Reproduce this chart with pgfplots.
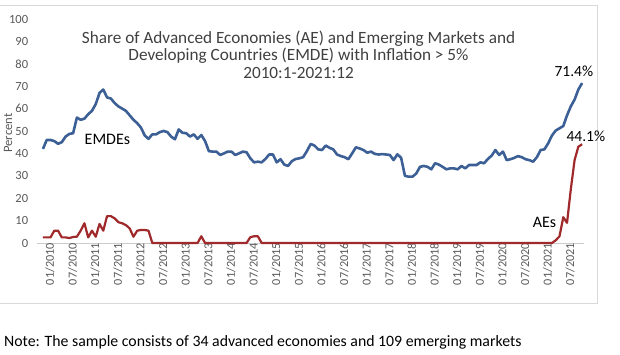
\documentclass[border=0pt]{standalone}
\usepackage{fontspec}
\setmainfont{Carlito}
\usepackage{pgfplots}
\pgfplotsset{compat=1.18}
\usepackage{pgfplotstable}
\definecolor{emde}{HTML}{3C5F95}
\definecolor{ae}{HTML}{A0292B}
\definecolor{txt}{HTML}{404040}
\definecolor{tick}{HTML}{595959}
\pgfplotstableread{
i e a
0 42 2.5
1 46 2.5
2 46 2.5
3 45.5 5.5
4 44.3 5.5
5 45 2.5
6 47.5 2.5
7 48.7 2.2
8 49 2.7
9 56 2.8
10 55 5.5
11 55.5 8.8
12 57.5 2.5
13 59 5.5
14 62 2.8
15 67 8.5
16 68.5 5.5
17 65 12
18 64.5 12
19 62.5 11
20 61 9.3
21 60 8.8
22 59 8
23 57 6.5
24 55 2.8
25 53.5 5.5
26 51.5 5.8
27 48 5.8
28 46.5 5.5
29 48.5 0
30 48.5 0
31 49.5 0
32 50 0
33 49.5 0
34 47.5 0
35 46.3 0
36 50.7 0
37 49.2 0
38 49 0
39 47.5 0
40 48.5 0
41 46.5 0
42 48.2 3
43 45.5 0
44 41 0
45 40.8 0
46 40.8 0
47 39.3 0
48 40 0
49 40.8 0
50 40.8 0
51 39.3 0
52 40 0
53 40.8 0
54 40.5 0
55 37.8 2.6
56 36 3
57 36.3 3
58 36 0
59 37.5 0
60 39.5 0
61 39.5 0
62 36 0
63 37.4 0
64 35 0
65 34.4 0
66 36.5 0
67 37.5 0
68 37.8 0
69 38.3 0
70 41 0
71 44.2 0
72 43.5 0
73 41.8 0
74 41.5 0
75 43.5 0
76 42.5 0
77 41.8 0
78 39.5 0
79 38.8 0
80 38.3 0
81 37.4 0
82 40 0
83 42.7 0
84 42.2 0
85 41.5 0
86 40.3 0
87 40.8 0
88 39.8 0
89 39.5 0
90 39.7 0
91 39.5 0
92 39.3 0
93 37 0
94 39.6 0
95 38 0
96 30 0
97 29.6 0
98 29.6 0
99 31 0
100 34 0
101 34.4 0
102 34 0
103 32.9 0
104 35.6 0
105 35 0
106 34 0
107 32.9 0
108 33.3 0
109 33.3 0
110 32.9 0
111 34.4 0
112 33.3 0
113 34.8 0
114 34.8 0
115 34.8 0
116 36 0
117 35.6 0
118 37.5 0
119 39 0
120 41.5 0
121 39.3 0
122 40.8 0
123 37 0
124 37.4 0
125 38 0
126 38.8 0
127 38.3 0
128 37.4 0
129 37 0
130 36.3 0
131 38.3 0
132 41.5 0
133 41.8 0
134 44.5 0
135 48 0
136 50.2 1.2
137 51.2 3
138 52.2 11.5
139 57 9
140 61 24
141 64 37
142 68.5 43
143 71.4 44.1
}\data
\begin{document}
\begin{tikzpicture}[x=1pt,y=1pt]
\useasboundingbox (0,0) rectangle (620,355);
\draw[black!15] (-1,350) rectangle (597,52);
\begin{axis}[
  at={(37.3pt,112pt)}, anchor=south west,
  scale only axis, width=546.7pt, height=224pt,
  xmin=-1.5, xmax=143.5, ymin=0, ymax=100,
  axis x line*=bottom, axis y line*=left,
  y axis line style={draw=none},
  x axis line style={black!20, line width=0.8pt},
  major tick length=0pt,
  ytick={0,10,...,100},
  xtick={0,6,...,138},
  xticklabels={01/2010,07/2010,01/2011,07/2011,01/2012,07/2012,01/2013,07/2013,01/2014,07/2014,01/2015,07/2015,01/2016,07/2016,01/2017,07/2017,01/2018,07/2018,01/2019,07/2019,01/2020,07/2020,01/2021,07/2021},
  x tick label style={rotate=90, anchor=east, font=\fontsize{12.2}{12}\selectfont, text=tick, inner sep=0pt, yshift=-7pt},
  y tick label style={font=\fontsize{12.5}{12}\selectfont, text=tick, inner sep=0pt, xshift=-9pt},
  /pgf/number format/assume math mode=true,
  clip=false,
]
\addplot[emde, line width=2.6pt, line join=round] table[x=i, y=e] {\data};
\addplot[ae, line width=2.2pt, line join=round] table[x=i, y=a] {\data};
\node[font=\fontsize{16}{16}\selectfont] at (axis cs:17.1,46.4) {EMDEs};
\node[font=\fontsize{16}{16}\selectfont] at (axis cs:133,9.4) {AEs};
\node[font=\fontsize{15.5}{16}\selectfont] at (axis cs:140.8,76.8) {71.4\%};
\node[font=\fontsize{15.5}{16}\selectfont] at (axis cs:144,47.8) {44.1\%};
\end{axis}
\node[rotate=90, font=\fontsize{12.7}{13}\selectfont, text=tick] at (8,222) {Percent};
\node[align=center, text=txt, font=\fontsize{17.2}{17.5}\selectfont] at (298.5,300.5) {Share of Advanced Economies (AE) and Emerging Markets and\\Developing Countries (EMDE) with Inflation > 5\%\\2010:1-2021:12};
\node[anchor=west, font=\fontsize{15.8}{16}\selectfont, inner sep=0pt] at (4,13) {Note: The sample consists of 34 advanced economies and 109 emerging markets};
\end{tikzpicture}
\end{document}
